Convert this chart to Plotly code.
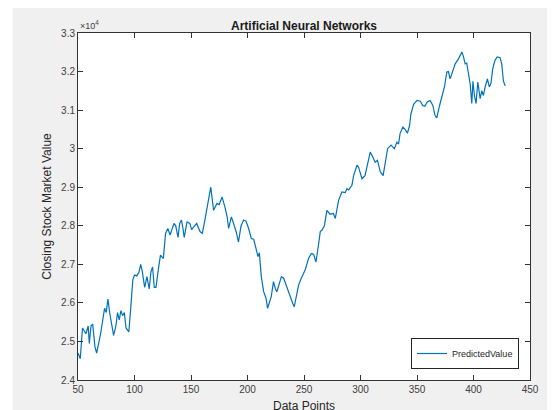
import plotly.graph_objects as go

# Data (values in units of 1e4)
data_points = [
    50, 52, 54, 57, 59, 60, 61.5, 63, 65, 66.5, 70, 72, 73.5, 75, 76.5, 78, 80, 81.5, 83.5, 85,
    86.5, 88, 89.5, 91, 92.5, 95, 96.5, 98.5, 100, 102, 104, 105.5, 107, 109, 111, 113, 114.5, 116,
    117.5, 119, 121, 123, 125.5, 127.5, 129.5, 131.5, 133, 135, 136.5, 138.5, 140, 141.5, 142.5,
    144, 146.5, 149, 150.5, 153, 155, 158, 160, 162, 164, 166, 167.5, 170, 173, 175, 177.5, 180,
    182, 183.3, 185.7, 187.7, 190, 192, 194.3, 196.6, 198.7, 201, 203.4, 205.5, 207.5, 209.3,
    210.5, 212.2, 214.3, 216.4, 217.8, 219.3, 221, 223, 224.5, 226, 228, 230, 232, 233.6, 235.8,
    237.9, 240, 241.4, 243, 245.2, 247.6, 249.7, 251, 254, 256.5, 258.5, 260.6, 263, 264.4, 266,
    268, 270.3, 273, 276, 277.7, 280.6, 283.6, 286.5, 288, 289.5, 292.4, 293.9, 296.9, 298.3,
    301.3, 304, 307, 308.6, 311, 313, 315, 317.5, 320, 322, 324, 327, 330, 332.2, 333.7, 335,
    337.5, 339.5, 341.5, 343.4, 344.6, 347, 350, 353, 355, 357, 359, 361.6, 364, 366, 367.5, 370,
    372, 374.3, 376.4, 377.8, 379.3, 381.7, 383.8, 386.7, 389.7, 391, 392.6, 394, 395.5, 397,
    398.5, 399.5, 400.8, 402.3, 403.8, 405.9, 407.3, 408.8, 410.3, 412.3, 414, 415.5, 417, 419,
    421, 423.5, 425, 426.5, 428,
]
predicted_value = [
    2.47, 2.455, 2.535, 2.52, 2.54, 2.495, 2.54, 2.545, 2.486, 2.47, 2.52, 2.564, 2.586, 2.575,
    2.61, 2.575, 2.54, 2.516, 2.54, 2.575, 2.556, 2.58, 2.567, 2.575, 2.535, 2.525, 2.58, 2.66,
    2.672, 2.67, 2.68, 2.70, 2.68, 2.64, 2.668, 2.636, 2.68, 2.693, 2.64, 2.64, 2.685, 2.724,
    2.715, 2.78, 2.793, 2.776, 2.79, 2.806, 2.80, 2.77, 2.806, 2.815, 2.80, 2.77, 2.81, 2.806,
    2.79, 2.80, 2.806, 2.785, 2.78, 2.81, 2.845, 2.88, 2.90, 2.84, 2.858, 2.855, 2.875, 2.849,
    2.823, 2.793, 2.823, 2.806, 2.784, 2.758, 2.80, 2.815, 2.812, 2.793, 2.767, 2.765, 2.737,
    2.72, 2.73, 2.668, 2.629, 2.612, 2.586, 2.603, 2.616, 2.655, 2.638, 2.629, 2.646, 2.668,
    2.664, 2.65, 2.633, 2.616, 2.599, 2.59, 2.616, 2.646, 2.664, 2.68, 2.685, 2.715, 2.728,
    2.726, 2.706, 2.754, 2.785, 2.789, 2.80, 2.84, 2.83, 2.832, 2.819, 2.866, 2.888, 2.886,
    2.896, 2.893, 2.905, 2.93, 2.957, 2.952, 2.922, 2.93, 2.974, 2.991, 2.978, 2.965, 2.97,
    2.94, 2.93, 2.961, 3.0, 3.009, 3.0, 3.017, 3.012, 3.039, 3.056, 3.05, 3.04, 3.06, 3.09,
    3.115, 3.125, 3.123, 3.112, 3.11, 3.121, 3.125, 3.112, 3.086, 3.08, 3.112, 3.134, 3.16,
    3.199, 3.20, 3.181, 3.199, 3.22, 3.233, 3.251, 3.24, 3.22, 3.222, 3.194, 3.169, 3.117,
    3.175, 3.138, 3.117, 3.173, 3.13, 3.15, 3.138, 3.16, 3.181, 3.16, 3.17, 3.207, 3.229,
    3.238, 3.236, 3.22, 3.175, 3.163,
]
x_ticks = [50, 100, 150, 200, 250, 300, 350, 400, 450]
y_ticks = [2.4, 2.5, 2.6, 2.7, 2.8, 2.9, 3.0, 3.1, 3.2, 3.3]
y_tick_labels = ["2.4", "2.5", "2.6", "2.7", "2.8", "2.9", "3", "3.1", "3.2", "3.3"]

FONT = "Liberation Sans, Arial, sans-serif"
AX = "#333333"

fig = go.Figure()
fig.add_trace(go.Scatter(
    x=data_points,
    y=[v * 1e4 for v in predicted_value],
    mode="lines",
    name="PredictedValue",
    line=dict(color="#0072BD", width=1.2),
))

axis_common = dict(
    showline=True, linecolor=AX, linewidth=1, mirror="ticks",
    ticks="inside", ticklen=5, tickwidth=1, tickcolor=AX,
    showgrid=False, zeroline=False, automargin=False,
    tickfont=dict(family=FONT, size=10, color="#404040"),
)

L, T = 69.5, 25
PW, PH = 452.5, 347

fig.update_layout(
    width=555, height=418,
    margin=dict(l=L, r=555 - L - PW, t=T, b=418 - T - PH),
    paper_bgcolor="#f0f0f0",
    plot_bgcolor="white",
    showlegend=True,
    title=dict(
        text="<b>Artificial Neural Networks</b>",
        x=0.5, xref="paper", xanchor="center",
        y=1, yref="paper", yanchor="bottom", pad=dict(b=3),
        font=dict(family=FONT, size=12, color="#1a1a1a"),
        automargin=False,
    ),
    xaxis=dict(
        range=[50, 450], tickvals=x_ticks,
        title=dict(text="Data Points", standoff=7,
                   font=dict(family=FONT, size=12, color="#262626")),
        **axis_common,
    ),
    yaxis=dict(
        range=[24000, 33000],
        tickvals=[v * 1e4 for v in y_ticks], ticktext=y_tick_labels,
        title=dict(text="Closing Stock Market Value", standoff=6,
                   font=dict(family=FONT, size=12, color="#262626")),
        **axis_common,
    ),
    legend=dict(
        x=(519 - 8 - L) / PW, y=(380 - 369) / PH, xanchor="right", yanchor="bottom",
        bgcolor="white", bordercolor="#262626", borderwidth=1,
        font=dict(family=FONT, size=9, color="#262626"),
        itemwidth=30, tracegroupgap=0,
    ),
    shapes=[
        dict(type="rect", xref="paper", yref="paper",
             x0=-0.3, x1=(4 - L) / PW, y0=-0.3, y1=1.2,
             fillcolor="white", line=dict(width=0), layer="below"),
    ],
    annotations=[
        dict(text="\u00d710<sup>4</sup>", xref="paper", yref="paper",
             x=0, y=1, xanchor="left", yanchor="bottom", showarrow=False,
             font=dict(family=FONT, size=9, color="#404040")),
    ],
)

fig.write_html("out.html")
